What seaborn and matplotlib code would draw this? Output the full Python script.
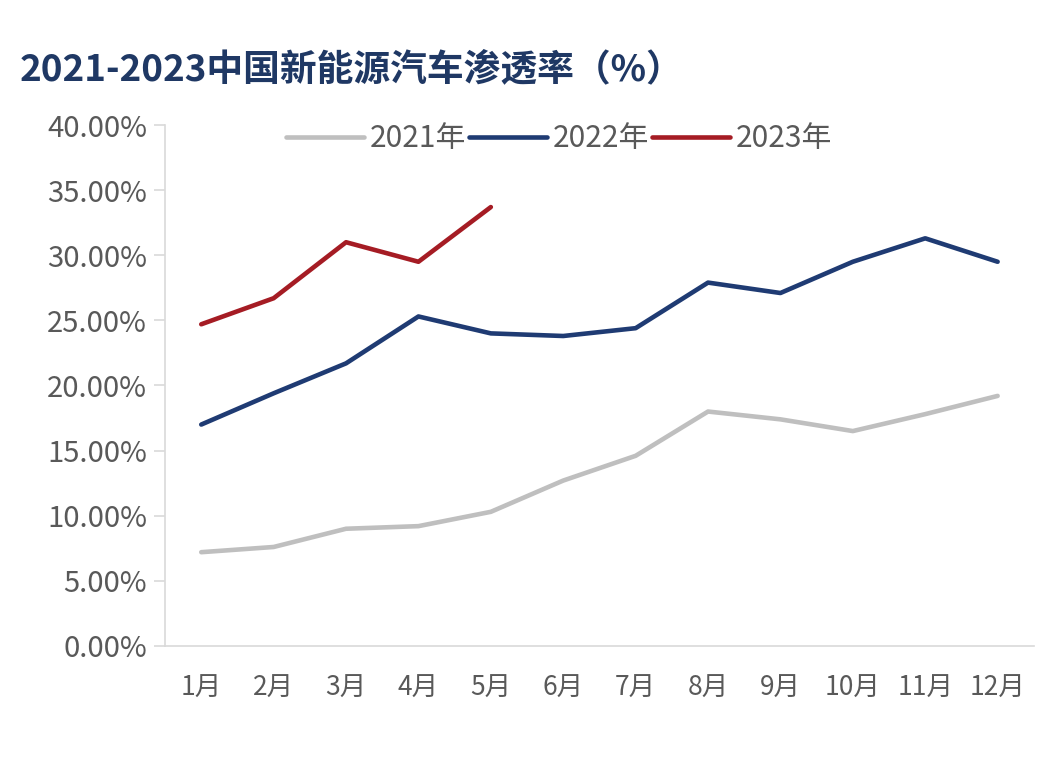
import matplotlib
matplotlib.use("Agg")
import matplotlib.pyplot as plt
import seaborn as sns
import pandas as pd
from matplotlib.ticker import FuncFormatter

months = ["1月", "2月", "3月", "4月", "5月", "6月", "7月", "8月", "9月", "10月", "11月", "12月"]
rate_2021 = [7.2, 7.6, 9.0, 9.2, 10.3, 12.7, 14.6, 18.0, 17.4, 16.5, 17.8, 19.2]
rate_2022 = [17.0, 19.4, 21.7, 25.3, 24.0, 23.8, 24.4, 27.9, 27.1, 29.5, 31.3, 29.5]
rate_2023 = [24.7, 26.7, 31.0, 29.5, 33.7]
series_names = ["2021年", "2022年", "2023年"]
colors = ["#BFBFBF", "#1F3B73", "#A51C24"]
y_ticks = [0, 5, 10, 15, 20, 25, 30, 35, 40]
title = "2021-2023中国新能源汽车渗透率（%）"

rows = []
for name, vals in zip(series_names, [rate_2021, rate_2022, rate_2023]):
    for m, v in zip(months, vals):
        rows.append({"月份": m, "渗透率": v, "年份": name})
df = pd.DataFrame(rows)

sns.set_theme(style="white")
plt.rcParams["font.family"] = ["Noto Sans CJK SC", "DejaVu Sans"]

fig = plt.figure(figsize=(10.56, 7.75), dpi=100)
ax = fig.add_axes([0.1563, 0.1665, 0.979 - 0.1563, 0.8387 - 0.1665])

sns.lineplot(data=df, x="月份", y="渗透率", hue="年份", hue_order=series_names,
             palette=colors, linewidth=3.3, sort=False, ax=ax, legend=True)

ax.set_xlim(-0.5, 11.5)
ax.set_ylim(0, 40)
ax.set_yticks(y_ticks)
ax.yaxis.set_major_formatter(FuncFormatter(lambda v, p: f"{v:.2f}%"))
ax.set_xlabel("")
ax.set_ylabel("")

for s in ["top", "right"]:
    ax.spines[s].set_visible(False)
for s in ["left", "bottom"]:
    ax.spines[s].set_color("#D9D9D9")
    ax.spines[s].set_linewidth(1.2)

ax.tick_params(axis="y", length=8, width=1.2, color="#D9D9D9", pad=5,
               labelsize=21, labelcolor="#595959", left=True)
ax.tick_params(axis="x", length=0, pad=21, labelsize=19, labelcolor="#595959")

handles, labels = ax.get_legend_handles_labels()
ax.get_legend().remove()
fig.legend(handles, labels, loc="center left", bbox_to_anchor=(0.257, 0.821),
           ncol=3, frameon=False, fontsize=21.5, handlelength=2.6,
           handletextpad=0.18, columnspacing=0.12, borderpad=0,
           labelcolor="#595959")

fig.text(0.019, 0.91, title, fontsize=26.5, fontweight="bold", color="#1F3864",
         ha="left", va="center")

fig.savefig("out.png", dpi=100)
